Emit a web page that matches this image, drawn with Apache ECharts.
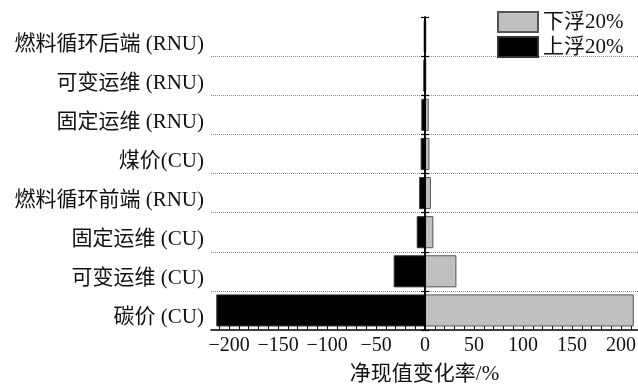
<!DOCTYPE html>
<html>
<head>
<meta charset="utf-8">
<script src="https://cdn.jsdelivr.net/npm/echarts@6/dist/echarts.min.js"></script>
<style>
  html, body { margin: 0; padding: 0; background: #fff; }
  #chart { width: 638px; height: 387px; }
</style>
</head>
<body>
<div id="chart"></div>
<script>
// Sensitivity of NPV to a ±20% change of each input (tornado chart)
const categories = ['燃料循环后端 (RNU)', '可变运维 (RNU)', '固定运维 (RNU)', '煤价(CU)',
                    '燃料循环前端 (RNU)', '固定运维 (CU)', '可变运维 (CU)', '碳价 (CU)'];
const down20 = [1.2, 1.2, 3.8, 4.5, 6, 8.5, 32, 213];          // 下浮20%
const up20 = [-1.4, -1.8, -3.8, -4.5, -6, -8.5, -32, -213];     // 上浮20%
const tickLabels = [-200, -150, -100, -50, 0, 50, 100, 150, 200];
const seriesNames = ['下浮20%', '上浮20%'];
const axisTitle = '净现值变化率/%';

const X_MIN = -218.4, X_MAX = 217.3;
const minorTicks = [];
for (let v = -210; v <= 210; v += 10) minorTicks.push(v);

const FONT = "'Liberation Serif', 'Noto Sans CJK SC', serif";

function zeroAxis(inside) {
  return {
    type: 'category', data: categories, inverse: true, position: 'left', z: 5,
    axisLine: { show: true, onZero: true, onZeroAxisIndex: 0, lineStyle: { color: '#000', width: 1.5 } },
    axisTick: { show: true, inside: inside, length: 4, lineStyle: { color: '#000', width: 1.2 } },
    axisLabel: { show: false },
    splitLine: { show: false }
  };
}

const chart = echarts.init(document.getElementById('chart'), null, { renderer: 'canvas' });
chart.setOption({
  animation: false,
  backgroundColor: '#fff',
  grid: { left: 211, right: 0, top: 17, bottom: 57, containLabel: false, outerBoundsMode: 'none' },
  legend: {
    data: seriesNames, orient: 'vertical', left: 497, top: 11, padding: 0,
    icon: 'rect', itemWidth: 40, itemHeight: 20, itemGap: 3,
    textStyle: { fontFamily: FONT, fontSize: 21, color: '#111' }
  },
  xAxis: [
    {
      type: 'value', min: X_MIN, max: X_MAX, position: 'bottom',
      axisLine: { show: true, onZero: false, lineStyle: { color: '#000', width: 1.5 } },
      axisTick: { show: true, inside: true, length: 7, customValues: tickLabels, lineStyle: { color: '#000' } },
      axisLabel: {
        customValues: tickLabels, fontFamily: FONT, fontSize: 20, color: '#111', margin: 6,
        formatter: v => String(v).replace('-', '\u2212')
      },
      splitLine: { show: false },
      name: axisTitle, nameLocation: 'middle', nameGap: 34,
      nameTextStyle: { fontFamily: FONT, fontSize: 21, color: '#111' }
    },
    {
      type: 'value', min: X_MIN, max: X_MAX, position: 'bottom',
      axisLine: { show: false, onZero: false },
      axisTick: { show: true, inside: true, length: 4, customValues: minorTicks, lineStyle: { color: '#000' } },
      axisLabel: { show: false },
      splitLine: { show: false }
    }
  ],
  yAxis: [
    {
      type: 'category', data: categories, inverse: true, position: 'left',
      axisLine: { show: false, onZero: false },
      axisTick: { show: false },
      axisLabel: {
        margin: 7,
        formatter: v => '{t|' + v + '}',
        rich: { t: { fontFamily: FONT, fontSize: 21, color: '#111', padding: [15, 0, 0, 0] } }
      },
      splitLine: {
        show: true, interval: 0, showMinLine: false, showMaxLine: false,
        lineStyle: { type: 'dotted', color: '#8a8a8a', width: 1 }
      }
    },
    zeroAxis(true),
    zeroAxis(false)
  ],
  series: [
    {
      name: seriesNames[0], type: 'bar', data: down20, barWidth: '82%', barGap: '-100%',
      itemStyle: { color: '#c0c0c0', borderColor: '#555', borderWidth: 1 }
    },
    {
      name: seriesNames[1], type: 'bar', data: up20, barWidth: '82%', barGap: '-100%',
      itemStyle: { color: '#000', borderColor: '#333', borderWidth: 1 }
    }
  ]
});
</script>
</body>
</html>
